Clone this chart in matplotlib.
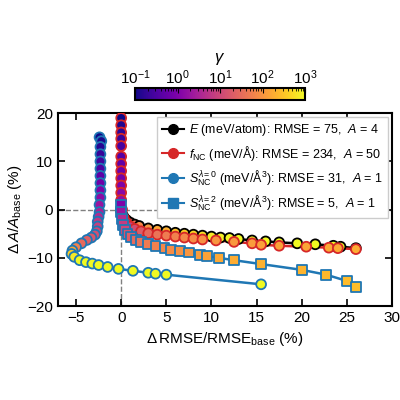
import numpy as np
import matplotlib
matplotlib.use('Agg')
import matplotlib.pyplot as plt
from matplotlib.colors import LogNorm
from matplotlib import rcParams
rcParams['font.family'] = ['Liberation Sans', 'DejaVu Sans']
rcParams['mathtext.fontset'] = 'custom'
rcParams['mathtext.rm'] = 'Liberation Sans'
rcParams['mathtext.it'] = 'Liberation Sans:italic'
rcParams['font.size'] = 10

# E (meV/atom)
e_x = [0.0, 0.1, 0.3, 0.6, 1.0, 1.5, 2.0, 3.0, 4.0, 5.0, 6.0, 7.0, 8.0, 9.0, 10.0, 11.0, 12.0, 13.0, 14.5, 16.0, 17.5, 19.5, 21.5, 23.5, 24.3, 26.0]
e_y = [-0.3, -1.0, -1.6, -2.2, -2.7, -3.1, -3.4, -3.9, -4.2, -4.5, -4.8, -5.0, -5.2, -5.4, -5.6, -5.8, -5.9, -6.1, -6.4, -6.6, -6.8, -7.0, -7.2, -7.5, -7.7, -8.0]
e_g = [5, 8, 12, 20, 30, 50, 70, 100, 150, 200, 300, 400, 500, 600, 700, 800, 900, 1000, 1000, 1000, 1000, 1000, 1000, 1000, 1000, 1000]

# f_NC (meV/A)
f_x = [0.0, 0.0, 0.0, 0.0, 0.0, 0.0, 0.0, 0.0, 0.0, 0.0, 0.0, 0.0, 0.1, 0.3, 0.6, 1.0, 1.5, 2.2, 3.0, 4.0, 5.0, 6.0, 7.0, 8.0, 9.0, 10.5, 12.5, 14.5, 15.5, 17.5, 20.5, 23.0, 24.0, 26.0]
f_y = [19.0, 17.5, 16.0, 14.7, 13.2, 11.0, 9.5, 8.0, 6.5, 5.0, 3.5, 2.0, 0.0, -1.8, -2.8, -3.5, -4.0, -4.5, -4.9, -5.2, -5.4, -5.6, -5.8, -6.0, -6.2, -6.4, -6.7, -7.0, -7.3, -7.5, -7.7, -7.9, -8.0, -8.2]
f_g = [0.1, 0.13, 0.17, 0.22, 0.3, 0.4, 0.5, 0.65, 0.8, 1.0, 1.3, 1.6, 2, 3, 5, 8, 12, 20, 30, 40, 50, 60, 70, 80, 90, 100, 110, 120, 130, 140, 150, 160, 170, 180]

# S_NC lambda=0
s0_x = [-2.4, -2.2, -2.3, -2.3, -2.3, -2.3, -2.3, -2.3, -2.3, -2.3, -2.4, -2.4, -2.5, -2.6, -2.6, -2.7, -2.9, -3.3, -3.8, -4.4, -5.0, -5.4, -5.5, -5.2, -4.6, -3.9, -3.2, -2.5, -1.5, -0.3, 1.3, 3.0, 3.8, 5.0, 15.5]
s0_y = [15.0, 14.2, 13.0, 11.5, 10.0, 8.5, 7.0, 5.5, 4.0, 2.5, 1.0, -0.5, -1.5, -2.5, -3.5, -4.5, -5.2, -5.8, -6.3, -7.0, -7.8, -8.5, -9.2, -9.8, -10.5, -10.9, -11.2, -11.5, -11.9, -12.3, -12.7, -13.1, -13.3, -13.5, -15.5]
s0_g = [0.1, 0.12, 0.15, 0.2, 0.25, 0.35, 0.5, 0.7, 1.0, 1.4, 2, 3, 4, 6, 8, 10, 13, 17, 22, 30, 60, 150, 400, 700, 1000, 1000, 1000, 1000, 1000, 1000, 1000, 1000, 1000, 1000, 1000]

# S_NC lambda=2
s2_x = [0.0, 0.0, 0.1, 0.2, 0.4, 0.7, 1.1, 1.6, 2.2, 3.0, 3.8, 4.8, 5.5, 6.5, 7.5, 8.7, 9.5, 10.8, 12.5, 15.5, 20.0, 22.7, 25.0, 26.0]
s2_y = [1.0, -0.5, -2.0, -3.2, -4.2, -5.0, -5.7, -6.3, -6.8, -7.2, -7.6, -8.0, -8.3, -8.6, -8.9, -9.4, -9.6, -10.0, -10.5, -11.3, -12.5, -13.5, -14.8, -16.0]
s2_g = [1, 2, 4, 7, 10, 15, 20, 30, 40, 50, 60, 70, 80, 90, 100, 120, 140, 160, 180, 200, 220, 240, 260, 280]

norm = LogNorm(vmin=0.1, vmax=1000)
cmap = 'plasma'

fig = plt.figure(figsize=(4, 4), dpi=100)
ax = fig.add_axes([0.145, 0.235, 0.835, 0.482])

series = [
    (e_x, e_y, e_g, 'black', 'o', r'$E$ (meV/atom): RMSE = 75,  $A$ = 4'),
    (f_x, f_y, f_g, '#d62728', 'o', r'$f_{\rm NC}$ (meV/$\rm\AA$): RMSE = 234,  $A$ = 50'),
    (s0_x, s0_y, s0_g, '#1f77b4', 'o', r'$S_{\rm NC}^{\lambda=0}$ (meV/$\rm\AA^3$): RMSE = 31,  $A$ = 1'),
    (s2_x, s2_y, s2_g, '#1f77b4', 's', r'$S_{\rm NC}^{\lambda=2}$ (meV/$\rm\AA^3$): RMSE = 5,  $A$ = 1'),
]
for x, y, g, c, m, lab in series:
    ax.plot(x, y, '-', color=c, lw=1.8, zorder=2)
    ax.plot([], [], '-', color=c, marker=m, ms=7, label=lab)
    sc = ax.scatter(x, y, c=g, cmap=cmap, norm=norm, marker=m, s=50,
                    edgecolors=c, linewidths=1.3, zorder=3)

ax.axhline(0, color='gray', ls='--', lw=1, zorder=1)
ax.axvline(0, color='gray', ls='--', lw=1, zorder=1)
ax.set_xlim(-7, 30)
ax.set_ylim(-20, 20)
ax.set_xticks([-5, 0, 5, 10, 15, 20, 25, 30])
ax.set_yticks([-20, -10, 0, 10, 20])
ax.tick_params(direction='in', top=True, right=True, labelsize=11, width=1.2, length=5)
for s in ax.spines.values():
    s.set_linewidth(1.5)
ax.set_xlabel(r'$\Delta\,$RMSE/RMSE$_{\rm base}$ (%)', fontsize=11)
ax.set_ylabel(r'$\Delta\,A/A_{\rm base}$ (%)', fontsize=11, labelpad=2)
ax.legend(loc='upper right', fontsize=9, handlelength=1.8, borderpad=0.4,
          labelspacing=0.45, handletextpad=0.4, borderaxespad=0.3,
          framealpha=1, fancybox=False)

cax = fig.add_axes([0.3375, 0.75, 0.425, 0.03])
cb = fig.colorbar(sc, cax=cax, orientation='horizontal')
cax.xaxis.set_ticks_position('top')
cax.xaxis.set_label_position('top')
cb.set_label(r'$\gamma$', fontsize=12, labelpad=4)
cax.tick_params(which='both', direction='in', labelsize=11, pad=1)
cb.outline.set_linewidth(1.5)

fig.savefig('out.png', dpi=100)
